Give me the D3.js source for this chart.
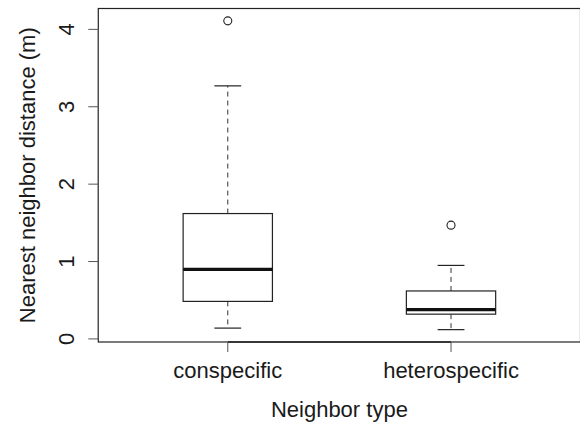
<!DOCTYPE html>
<html>
<head>
<meta charset="utf-8">
<script src="https://cdn.jsdelivr.net/npm/d3@7"></script>
<style>
  body { margin: 0; background: #fff; }
  text { font-family: "Liberation Sans", Arial, sans-serif; fill: #1a1a1a; }
</style>
</head>
<body>
<div id="main"></div>
<script>
// boxplot stats
const categories = ["conspecific", "heterospecific"];
const whiskerLow = [0.14, 0.12];
const q1 = [0.485, 0.32];
const median = [0.9, 0.38];
const q3 = [1.62, 0.62];
const whiskerHigh = [3.27, 0.95];
const outliers = [[4.11], [1.47]];
const yTicks = [0, 1, 2, 3, 4];

const width = 580;
const height = 422;

const svg = d3.select("#main")
    .append("svg")
    .attr("width", width)
    .attr("height", height);

// R style ranges: x 0.5..2.5 and y data range, each padded by 4%
const x = d3.scaleLinear()
    .domain([0.42, 2.58])
    .range([98.3, 580.5]);

const y = d3.scaleLinear()
    .domain([-0.0396, 4.2696])
    .range([342, 8.5]);

const boxHalf = 0.2;
const capHalf = 0.06;

const data = categories.map((c, i) => ({
    name: c,
    pos: i + 1,
    lo: whiskerLow[i],
    q1: q1[i],
    med: median[i],
    q3: q3[i],
    hi: whiskerHigh[i],
    out: outliers[i]
}));

const boxes = svg.append("g")
    .selectAll("g")
    .data(data)
    .join("g");

// whiskers
boxes.append("line")
    .attr("x1", d => x(d.pos)).attr("x2", d => x(d.pos))
    .attr("y1", d => y(d.q3)).attr("y2", d => y(d.hi))
    .attr("stroke", "#333").attr("stroke-dasharray", "5,4");
boxes.append("line")
    .attr("x1", d => x(d.pos)).attr("x2", d => x(d.pos))
    .attr("y1", d => y(d.q1)).attr("y2", d => y(d.lo))
    .attr("stroke", "#333").attr("stroke-dasharray", "5,4");

// caps
boxes.selectAll(".cap")
    .data(d => [{pos: d.pos, v: d.lo}, {pos: d.pos, v: d.hi}])
    .join("line")
    .attr("class", "cap")
    .attr("x1", d => x(d.pos - capHalf)).attr("x2", d => x(d.pos + capHalf))
    .attr("y1", d => y(d.v)).attr("y2", d => y(d.v))
    .attr("stroke", "#222").attr("stroke-width", 1.2);

// box
boxes.append("rect")
    .attr("x", d => x(d.pos - boxHalf))
    .attr("width", d => x(d.pos + boxHalf) - x(d.pos - boxHalf))
    .attr("y", d => y(d.q3))
    .attr("height", d => y(d.q1) - y(d.q3))
    .attr("fill", "white")
    .attr("stroke", "#222").attr("stroke-width", 1.2);

// median
boxes.append("line")
    .attr("x1", d => x(d.pos - boxHalf)).attr("x2", d => x(d.pos + boxHalf))
    .attr("y1", d => y(d.med)).attr("y2", d => y(d.med))
    .attr("stroke", "#111").attr("stroke-width", 3.2);

// outliers
boxes.selectAll("circle")
    .data(d => d.out.map(v => ({pos: d.pos, v: v})))
    .join("circle")
    .attr("cx", d => x(d.pos))
    .attr("cy", d => y(d.v))
    .attr("r", 4)
    .attr("fill", "none")
    .attr("stroke", "#222").attr("stroke-width", 1.1);

// frame
svg.append("rect")
    .attr("x", x.range()[0])
    .attr("y", y.range()[1])
    .attr("width", x.range()[1] - x.range()[0])
    .attr("height", y.range()[0] - y.range()[1])
    .attr("fill", "none")
    .attr("stroke", "#222").attr("stroke-width", 1.2);

// y axis
const yAxis = svg.append("g")
    .attr("transform", "translate(" + x.range()[0] + ",0)");
yAxis.append("line")
    .attr("y1", y(0)).attr("y2", y(4))
    .attr("stroke", "#555");
yAxis.selectAll("line.tick")
    .data(yTicks)
    .join("line")
    .attr("class", "tick")
    .attr("x1", 0).attr("x2", -10)
    .attr("y1", d => y(d)).attr("y2", d => y(d))
    .attr("stroke", "#555");
yAxis.selectAll("text")
    .data(yTicks)
    .join("text")
    .attr("transform", d => "translate(-24.5," + y(d) + ") rotate(-90)")
    .attr("text-anchor", "middle")
    .attr("font-size", 22)
    .text(d => d);

// x axis
const xAxis = svg.append("g")
    .attr("transform", "translate(0," + y.range()[0] + ")");
xAxis.append("line")
    .attr("x1", x(1)).attr("x2", x(2))
    .attr("stroke", "#222").attr("stroke-width", 1.5);
xAxis.selectAll("line.tick")
    .data(data)
    .join("line")
    .attr("class", "tick")
    .attr("x1", d => x(d.pos)).attr("x2", d => x(d.pos))
    .attr("y1", 0).attr("y2", 10)
    .attr("stroke", "#555");
xAxis.selectAll("text")
    .data(data)
    .join("text")
    .attr("x", d => x(d.pos))
    .attr("y", 35.5)
    .attr("text-anchor", "middle")
    .attr("font-size", 22)
    .text(d => d.name);

// axis titles
svg.append("text")
    .attr("x", (x(1) + x(2)) / 2)
    .attr("y", 416.5)
    .attr("text-anchor", "middle")
    .attr("font-size", 22)
    .text("Neighbor type");

svg.append("text")
    .attr("transform", "translate(34.5," + (y.range()[0] + y.range()[1]) / 2 + ") rotate(-90)")
    .attr("text-anchor", "middle")
    .attr("font-size", 22)
    .text("Nearest neighbor distance (m)");
</script>
</body>
</html>
